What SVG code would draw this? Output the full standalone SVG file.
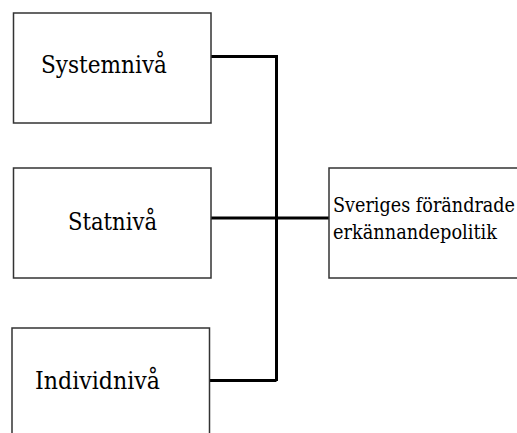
<svg xmlns="http://www.w3.org/2000/svg" width="517" height="433" viewBox="0 0 517 433">
<style>
.box{fill:#fff;stroke:#333;stroke-width:1.5}
text{font-family:'DejaVu Serif',serif;fill:#000}
.big{font-size:24px}
.small{font-size:20.5px}
.conn{fill:none;stroke:#000;stroke-width:3}
</style>
<rect width="517" height="433" fill="#fff"/>
<g id="connectors">
<path class="conn" d="M211 56.5H276.5V381M211 218H329M209.5 380.5H276.5"/>
</g>
<g id="systemniva">
<rect class="box" x="13.5" y="13" width="197.5" height="110"/>
<text class="big" x="41" y="73" textLength="126" lengthAdjust="spacingAndGlyphs">Systemnivå</text>
</g>
<g id="statniva">
<rect class="box" x="13.5" y="168" width="197.5" height="110"/>
<text class="big" x="68" y="230" textLength="89" lengthAdjust="spacingAndGlyphs">Statnivå</text>
</g>
<g id="individniva">
<rect class="box" x="12" y="328" width="197.5" height="115"/>
<text class="big" x="35" y="389" textLength="125" lengthAdjust="spacingAndGlyphs">Individnivå</text>
</g>
<g id="sveriges">
<rect class="box" x="329" y="168" width="200" height="110"/>
<text class="small" x="333" y="211.5" textLength="182" lengthAdjust="spacingAndGlyphs">Sveriges förändrade</text>
<text class="small" x="333" y="239" textLength="164" lengthAdjust="spacingAndGlyphs">erkännandepolitik</text>
</g>
</svg>
